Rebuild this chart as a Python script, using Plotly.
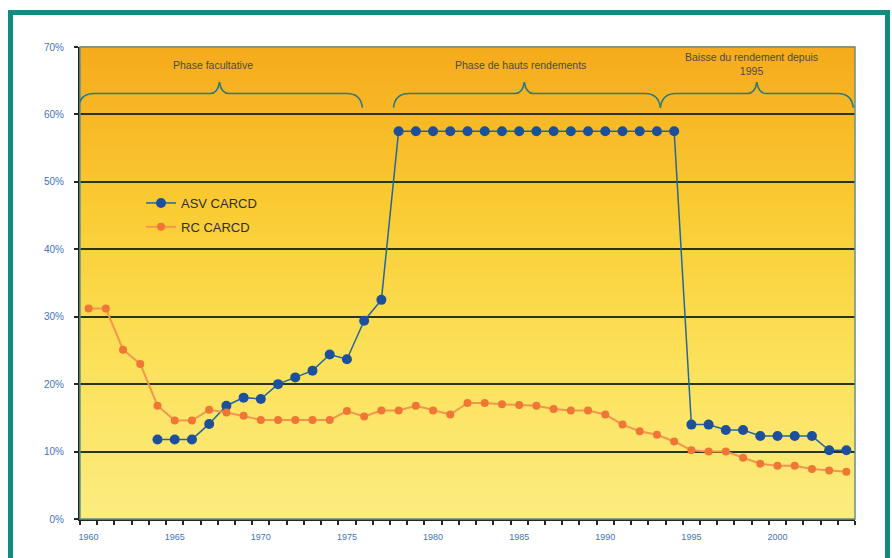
import plotly.graph_objects as go

# ---- data -------------------------------------------------------------
years = list(range(1960, 2005))

# ASV CARCD yield (%), first value in 1964
asv_carcd = [None, None, None, None,
             11.8, 11.8, 11.8, 14.1, 16.8, 18.0, 17.8, 20.0, 21.0, 22.0,
             24.4, 23.7, 29.4, 32.5,
             57.5, 57.5, 57.5, 57.5, 57.5, 57.5, 57.5, 57.5, 57.5, 57.5,
             57.5, 57.5, 57.5, 57.5, 57.5, 57.5, 57.5,
             14.0, 14.0, 13.2, 13.2, 12.3, 12.3, 12.3, 12.3, 10.2, 10.2]

# RC CARCD yield (%)
rc_carcd = [31.2, 31.2, 25.1, 23.0, 16.8, 14.6, 14.6, 16.2, 15.8, 15.3,
            14.7, 14.7, 14.7, 14.7, 14.7, 16.0, 15.2, 16.1, 16.1, 16.8,
            16.1, 15.5, 17.2, 17.2, 17.0, 16.9, 16.8, 16.3, 16.1, 16.1,
            15.5, 14.0, 13.0, 12.5, 11.5, 10.2, 10.0, 10.0, 9.1, 8.2,
            7.9, 7.9, 7.4, 7.2, 7.0]

x_ticks = [1960, 1965, 1970, 1975, 1980, 1985, 1990, 1995, 2000]
y_ticks = [0, 10, 20, 30, 40, 50, 60, 70]

# phases: (start, end, brace tip, label, label x, label y)
phases = [
    (1959.4, 1975.9, 1967.6, "Phase facultative", 1967.2, 67.4),
    (1977.7, 1993.2, 1985.3, "Phase de hauts rendements", 1985.1, 67.4),
    (1993.2, 2004.4, 1998.8, "Baisse du rendement depuis<br>1995", 1998.5, 67.5),
]

# ---- layout constants ---------------------------------------------------
W, H = 892, 558
ML, MR, MT, MB = 80, 37, 47, 39
PW, PH = W - ML - MR, H - MT - MB

TEAL = "#138a80"
TICK_BLUE = "#4673c0"
GRID = "#27351f"


def px_x(p):
    return (p - ML) / PW


def px_y(p):
    return (H - MB - p) / PH


def lerp(c0, c1, t):
    return tuple(round(a + (b - a) * t) for a, b in zip(c0, c1))


# vertical gradient stops (paper y, rgb)
stops = [(0.0, (252, 236, 128)), (0.35, (252, 224, 88)),
         (0.65, (250, 204, 52)), (1.0, (245, 170, 28))]


def grad(y):
    for (y0, c0), (y1, c1) in zip(stops, stops[1:]):
        if y0 <= y <= y1:
            return lerp(c0, c1, (y - y0) / (y1 - y0))
    return stops[-1][1]


shapes = []
n_bands = 90
for i in range(n_bands):
    y0, y1 = i / n_bands, (i + 1) / n_bands
    r, g, b = grad((y0 + y1) / 2)
    shapes.append(dict(type="rect", xref="paper", yref="paper",
                       x0=0, x1=1, y0=y0, y1=y1 + 0.002,
                       fillcolor=f"rgb({r},{g},{b})",
                       line=dict(width=0), layer="below"))

# plot-area outline (top and right edges)
shapes.append(dict(type="rect", xref="paper", yref="paper", x0=0, x1=1, y0=0, y1=1,
                   line=dict(color="#5f938e", width=1.5), layer="above"))

# outer teal frame
shapes.append(dict(type="rect", xref="paper", yref="paper",
                   x0=px_x(10.5), x1=px_x(887.5), y0=px_y(600), y1=px_y(12.5),
                   line=dict(color=TEAL, width=5), layer="above"))


def brace_path(x0, x1, xt, y_end=61.0, y_mid=63.1, y_tip=64.8):
    d = 0.9   # horizontal run of the end curls
    t = 0.55  # horizontal run of the tip curls
    return (f"M {x0},{y_end} Q {x0 + 0.1},{y_mid} {x0 + d},{y_mid} "
            f"L {xt - t},{y_mid} Q {xt - 0.1},{y_mid} {xt},{y_tip} "
            f"Q {xt + 0.1},{y_mid} {xt + t},{y_mid} "
            f"L {x1 - d},{y_mid} Q {x1 - 0.1},{y_mid} {x1},{y_end}")


annotations = []
for x0, x1, xt, label, lx, ly in phases:
    shapes.append(dict(type="path", xref="x", yref="y",
                       path=brace_path(x0, x1, xt),
                       line=dict(color="#2b7a7c", width=1.6), layer="above"))
    annotations.append(dict(x=lx, y=ly, xref="x", yref="y", text=label,
                            showarrow=False, yanchor="middle",
                            font=dict(family="Liberation Sans", size=10.5,
                                      color="#4a4a4a")))

# ---- figure -------------------------------------------------------------
fig = go.Figure()

fig.add_trace(go.Scatter(
    x=years, y=asv_carcd, name="ASV CARCD", mode="lines+markers",
    legendgroup="a", connectgaps=False,
    line=dict(color="#22689a", width=1.5),
    marker=dict(color="#1c4f9c", size=10, line=dict(width=0)),
))

fig.add_trace(go.Scatter(
    x=years, y=rc_carcd, name="RC CARCD", mode="lines+markers",
    legendgroup="b",
    line=dict(color="#f4964f", width=2),
    marker=dict(color="#ef7634", size=8, line=dict(width=0)),
))

fig.update_layout(
    width=W, height=H,
    margin=dict(l=ML, r=MR, t=MT, b=MB, pad=0),
    paper_bgcolor="white", plot_bgcolor="rgba(0,0,0,0)",
    font=dict(family="Liberation Sans"),
    shapes=shapes, annotations=annotations,
    showlegend=True,
    legend=dict(x=px_x(141), y=px_y(188), xanchor="left", yanchor="top",
                bgcolor="rgba(0,0,0,0)", borderwidth=0, tracegroupgap=4,
                font=dict(family="Liberation Sans", size=13, color="#2f2f2f")),
    xaxis=dict(range=[1959.5, 2004.5], tickvals=x_ticks,
               ticktext=[str(v) for v in x_ticks],
               showgrid=False, zeroline=False,
               showline=True, linecolor="#1e2a1c", linewidth=2,
               ticks="", ticklabelstandoff=8,
               tickfont=dict(family="Liberation Sans", size=9, color=TICK_BLUE),
               minor=dict(tick0=1959.5, dtick=1, ticks="outside", ticklen=4,
                          tickwidth=1.5, tickcolor="#1e2a1c", showgrid=False)),
    yaxis=dict(range=[0, 70], tickvals=y_ticks,
               ticktext=[f"{v}%" for v in y_ticks],
               showgrid=True, gridcolor=GRID, gridwidth=2,
               zeroline=False,
               showline=True, linecolor="#1e2a1c", linewidth=2,
               ticks="outside", ticklen=4, tickcolor="#1e2a1c", tickwidth=1.5,
               ticklabelstandoff=8,
               tickfont=dict(family="Liberation Sans", size=10, color=TICK_BLUE)),
)

fig.write_html("out.html")
